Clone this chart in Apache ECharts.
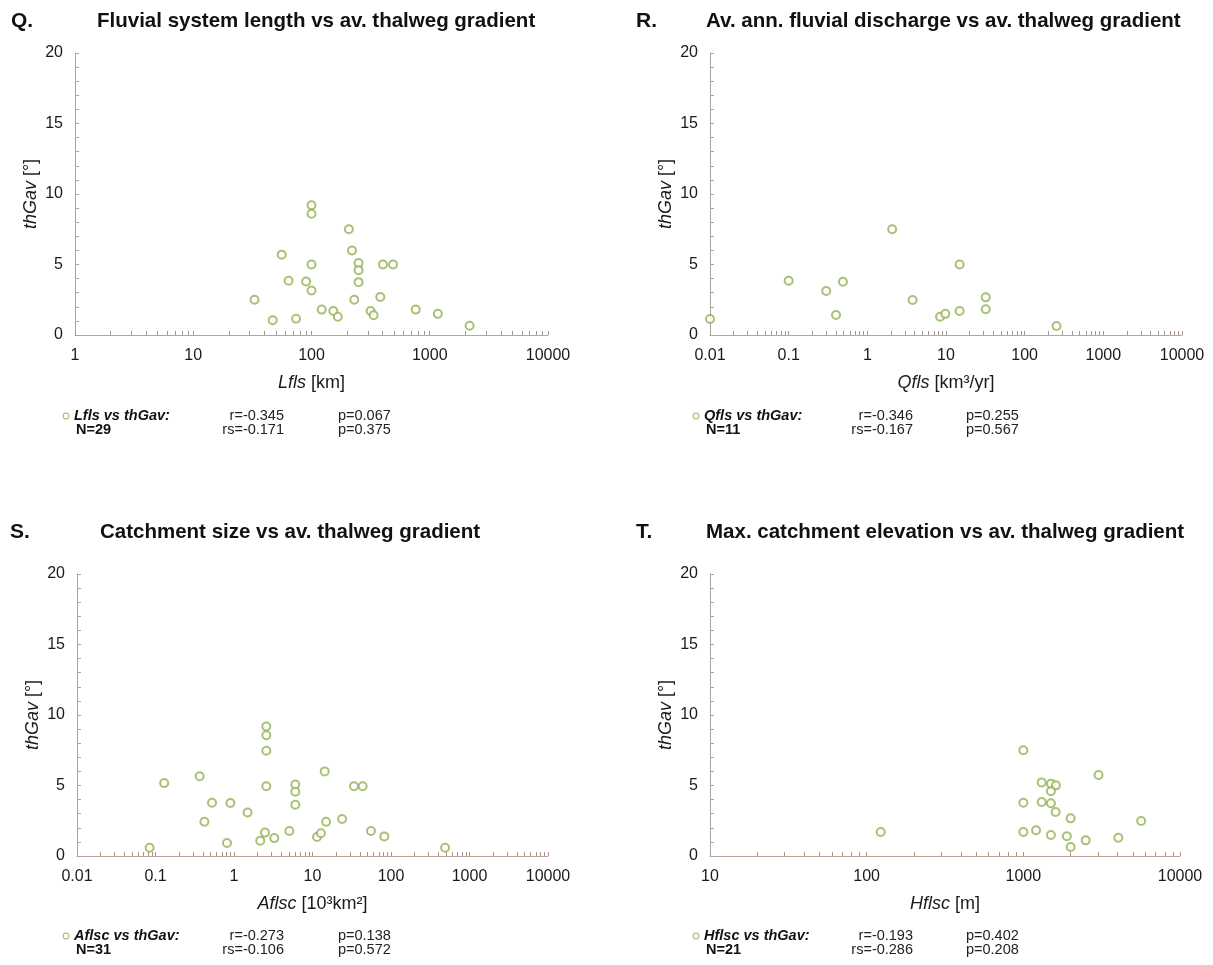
<!DOCTYPE html>
<html><head><meta charset="utf-8">
<script src="https://cdn.jsdelivr.net/npm/echarts@6/dist/echarts.min.js"></script>
<style>html,body{margin:0;padding:0;background:#fff}#c{width:1213px;height:965px}</style>
</head><body><div id="c"></div>
<script>
// ---- data ----
const qX = [100,100,207,220,56,250,100,402,489,250,64,90,250,100,33,230,382,122,153,167,316,335,761,1170,47,74,2170];
const qY = [9.2,8.6,7.5,6.0,5.7,5.1,5.0,5.0,5.0,4.6,3.85,3.8,3.75,3.15,2.5,2.5,2.7,1.8,1.7,1.3,1.7,1.4,1.8,1.5,1.05,1.15,0.65];
const rX = [0.01,0.1,0.3,0.49,0.4,2.07,3.76,8.4,9.8,14.9,14.9,32,32,254];
const rY = [1.13,3.85,3.12,3.78,1.42,7.5,2.48,1.3,1.5,5.0,1.7,2.67,1.82,0.64];
const sX = [2.58,2.58,2.58,2.58,2.48,2.16,3.26,0.129,0.365,0.525,0.42,0.9,0.814,0.084,1.49,5.07,6.04,6.04,6.04,14.3,14.9,11.4,12.8,23.8,33.8,43.5,55.6,82.2,488];
const sY = [9.18,8.56,7.46,4.95,1.66,1.09,1.27,5.17,5.66,3.78,2.43,3.76,0.92,0.59,3.09,1.77,5.07,4.56,3.64,6.0,2.43,1.35,1.61,2.62,4.95,4.95,1.77,1.39,0.59];
const tX = [1000,3020,1310,1500,1614,1500,1000,1310,1500,1607,2004,5650,123,1000,1206,1500,1897,2500,4040,2004];
const tY = [7.5,5.74,5.22,5.13,5.01,4.59,3.78,3.83,3.74,3.12,2.67,2.48,1.7,1.7,1.82,1.49,1.4,1.11,1.3,0.64];

const qTicks = [1,10,100,1000,10000];
const rTicks = [0.01,0.1,1,10,100,1000,10000];
const sTicks = [0.01,0.1,1,10,100,1000,10000];
const tTicks = [10,100,1000,10000];
const yTicks = [0,5,10,15,20];

const panels = [
  {letter:'Q.', title:'Fluvial system length vs av. thalweg gradient', xs:qX, ys:qY, ticks:qTicks,
   xname:'{i|Lfls} [km]', lg:'Lfls vs thGav:', n:'N=29', r:'r=-0.345', rs:'rs=-0.171', p1:'p=0.067', p2:'p=0.375'},
  {letter:'R.', title:'Av. ann. fluvial discharge vs av. thalweg gradient', xs:rX, ys:rY, ticks:rTicks,
   xname:'{i|Qfls} [km³/yr]', lg:'Qfls vs thGav:', n:'N=11', r:'r=-0.346', rs:'rs=-0.167', p1:'p=0.255', p2:'p=0.567'},
  {letter:'S.', title:'Catchment size vs av. thalweg gradient', xs:sX, ys:sY, ticks:sTicks,
   xname:'{i|Aflsc} [10³km²]', lg:'Aflsc vs thGav:', n:'N=31', r:'r=-0.273', rs:'rs=-0.106', p1:'p=0.138', p2:'p=0.572'},
  {letter:'T.', title:'Max. catchment elevation vs av. thalweg gradient', xs:tX, ys:tY, ticks:tTicks,
   xname:'{i|Hflsc} [m]', lg:'Hflsc vs thGav:', n:'N=21', r:'r=-0.193', rs:'rs=-0.286', p1:'p=0.402', p2:'p=0.208'}
];

// layout (positions only)
const L = [
  {left:75, top:53, width:473, height:282, tx:11, ty:21, titleX:97, lgX:63, rX:284, pX:338, row:416},
  {left:710, top:53, width:472, height:282, tx:636, ty:21, titleX:706, lgX:693, rX:913, pX:966, row:416},
  {left:77, top:574, width:471, height:282, tx:10, ty:532, titleX:100, lgX:63, rX:284, pX:338, row:936},
  {left:710, top:574, width:470, height:282, tx:636, ty:532, titleX:706, lgX:693, rX:913, pX:966, row:936}
];

const FONT = '"Liberation Sans", Arial, sans-serif';
const minors = t => {
  const out = [];
  for (let i = 0; i < t.length - 1; i++) for (let k = 1; k <= 9; k++) out.push(Number((t[i]*k).toPrecision(6)));
  out.push(t[t.length-1]);
  return out;
};
const yMinor = [];
for (let v = yTicks[0]; v <= yTicks[yTicks.length-1]; v++) yMinor.push(v);
const fmt = v => String(Number(Number(v).toPrecision(6)));

const grid = [], xAxis = [], yAxis = [], series = [], graphic = [];
panels.forEach((p, i) => {
  const l = L[i];
  grid.push({left:l.left, top:l.top, width:l.width, height:l.height, containLabel:false});
  xAxis.push({
    type:'log', logBase:10, gridIndex:i, min:p.ticks[0], max:p.ticks[p.ticks.length-1],
    axisLine:{lineStyle:{color:'#bfa39a', width:1}},
    axisTick:{show:true, inside:true, length:4, lineStyle:{color:'#a8968e'}, customValues:minors(p.ticks)},
    axisLabel:{color:'#1a1a1a', fontSize:16, fontFamily:FONT, margin:13, customValues:p.ticks, formatter:fmt},
    splitLine:{show:false}, minorTick:{show:false},
    name:p.xname, nameLocation:'middle', nameGap:39,
    nameTextStyle:{color:'#1a1a1a', fontSize:18, fontFamily:FONT, rich:{i:{fontStyle:'italic', fontSize:18, fontFamily:FONT, color:'#1a1a1a'}}}
  });
  yAxis.push({
    type:'value', gridIndex:i, min:yTicks[0], max:yTicks[yTicks.length-1], interval:5,
    axisLine:{show:true, lineStyle:{color:'#a6a6a6'}},
    axisTick:{show:true, inside:true, length:4, lineStyle:{color:'#a6a6a6'}, customValues:yMinor},
    minorTick:{show:false},
    axisLabel:{color:'#1a1a1a', fontSize:16, fontFamily:FONT, margin:12, customValues:yTicks},
    splitLine:{show:false},
    name:'{i|thGav} [°]', nameLocation:'middle', nameGap:35, nameRotate:90,
    nameTextStyle:{color:'#1a1a1a', fontSize:18, fontFamily:FONT, rich:{i:{fontStyle:'italic', fontSize:18, fontFamily:FONT, color:'#1a1a1a'}}}
  });
  series.push({
    type:'scatter', xAxisIndex:i, yAxisIndex:i, symbol:'emptyCircle', symbolSize:8,
    itemStyle:{color:'#92b254', borderColor:'#86a548', borderWidth:1},
    data:p.xs.map((x, j) => [x, p.ys[j]]), silent:true
  });
  // titles
  graphic.push({type:'text', x:l.tx, y:l.ty, style:{text:p.letter, font:'bold 21px '+FONT, fill:'#111', verticalAlign:'middle'}});
  graphic.push({type:'text', x:l.titleX, y:l.ty, style:{text:p.title, font:'bold 20.5px '+FONT, fill:'#111', verticalAlign:'middle'}});
  // legend
  graphic.push({type:'circle', shape:{cx:l.lgX+3, cy:l.row, r:3}, style:{fill:'none', stroke:'#92b254', lineWidth:1}});
  graphic.push({type:'text', x:l.lgX+11, y:l.row, style:{text:p.lg, font:'italic bold 14.5px '+FONT, fill:'#111', verticalAlign:'middle'}});
  graphic.push({type:'text', x:l.lgX+13, y:l.row+14, style:{text:p.n, font:'bold 14.5px '+FONT, fill:'#111', verticalAlign:'middle'}});
  graphic.push({type:'text', x:l.rX, y:l.row, style:{text:p.r, font:'14.5px '+FONT, fill:'#222', align:'right', verticalAlign:'middle'}});
  graphic.push({type:'text', x:l.rX, y:l.row+14, style:{text:p.rs, font:'14.5px '+FONT, fill:'#222', align:'right', verticalAlign:'middle'}});
  graphic.push({type:'text', x:l.pX, y:l.row, style:{text:p.p1, font:'14.5px '+FONT, fill:'#222', verticalAlign:'middle'}});
  graphic.push({type:'text', x:l.pX, y:l.row+14, style:{text:p.p2, font:'14.5px '+FONT, fill:'#222', verticalAlign:'middle'}});
});

const chart = echarts.init(document.getElementById('c'), null, {renderer:'canvas'});
chart.setOption({animation:false, backgroundColor:'#fff', grid, xAxis, yAxis, series, graphic});
</script></body></html>
